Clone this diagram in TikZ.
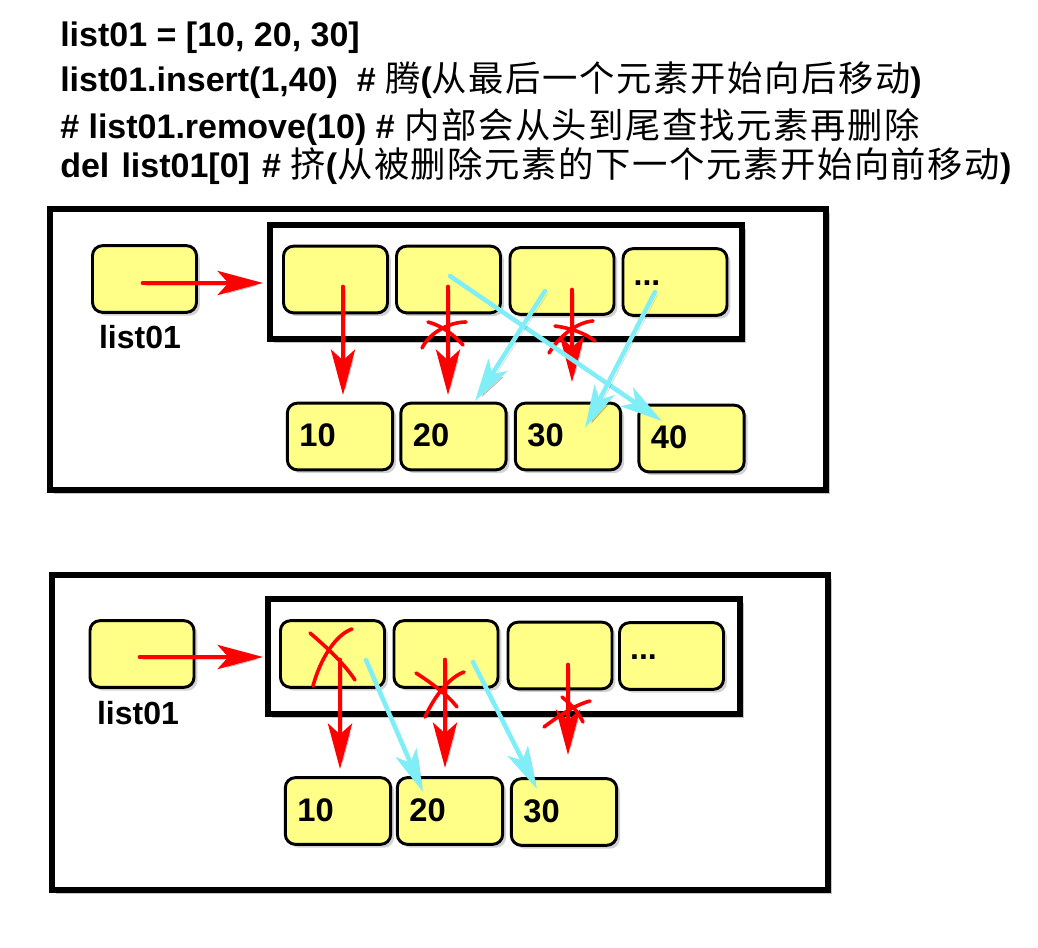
\documentclass[tikz,border=0pt]{standalone}
\usepackage{fontspec}
\setmainfont{Liberation Sans}
\newfontfamily\cjk{Noto Sans CJK SC}[LetterSpace=4.5]
\usetikzlibrary{arrows.meta,shadows}
\definecolor{cellyellow}{HTML}{FFFF88}
\definecolor{linecyan}{HTML}{80EEF6}
\definecolor{linered}{HTML}{FF0000}
\tikzset{
  frame/.style={draw=black, line width=3.8pt, fill=white, drop shadow={shadow xshift=3pt, shadow yshift=-3pt, opacity=0.45}},
  cell/.style={draw=black, line width=2.2pt, rounded corners=7.5pt, fill=cellyellow, minimum width=78pt, minimum height=50pt, inner sep=0pt, drop shadow={shadow xshift=2.5pt, shadow yshift=-2.5pt, opacity=0.35}},
  valbox/.style={cell, text width=61pt, align=left, inner xsep=9pt, font=\bfseries\fontsize{24.5}{28}\selectfont},
  shadowed/.style={preaction={draw=black, opacity=0.18, transform canvas={shift={(2pt,-2pt)}}}},
  redarrow/.style={shadowed, draw=linered, line width=3.6pt, line cap=round, -{Stealth[length=34pt, width=18pt, inset=8pt]}},
  cyanarrow/.style={shadowed, draw=linecyan, line width=3.4pt, line cap=round, -{Stealth[length=32pt, width=17pt, inset=8pt]}},
  xmark/.style={draw=linered, line width=2.7pt, line cap=round},
  lbl/.style={font=\bfseries\fontsize{24}{28}\selectfont},
  hdr/.style={anchor=base west, inner sep=0pt, font=\bfseries\fontsize{25.5}{30}\selectfont},
}
\newcommand{\zh}[1]{{\cjk\mdseries\fontsize{26.5}{30}\selectfont #1}}
\begin{document}
\begin{tikzpicture}[x=0.75pt, y=-0.75pt]
\useasboundingbox (0,0) rectangle (1038,948);
% header
\node[hdr] (h1) at (60,47) {list01 = [10, 20, 30]};
\node[hdr] (h2) at (60,92) {list01.insert(1,40)~~\# \zh{腾}(\zh{从最后一个元素开始向后移动})};
\node[hdr] (h3) at (60,139) {\# list01.remove(10) \# \zh{内部会从头到尾查找元素再删除}};
\node[hdr] (h4) at (60,178) {del\hspace{2pt} list01[0]\hspace{2pt} \# \zh{挤}(\zh{从被删除元素的下一个元素开始向前移动})};

% ===== upper diagram =====
\draw[frame] (50,209) rectangle (826,490);
\draw[frame] (270,225) rectangle (742,339);
\node[cell] (ua) at (144.5,279) {};
\node[lbl] (ual) at (140,337) {list01};
\node[cell] (u1) at (335.5,279.5) {};
\node[cell] (u2) at (448.5,279.5) {};
\node[cell] (u3) at (562,281) {};
\node[cell, text width=62pt, align=left, inner xsep=8pt, font=\bfseries\fontsize{24}{28}\selectfont] (u4) at (675,282) {\raisebox{-5pt}{...}};
\node[valbox] (v10) at (340,436.5) {\raisebox{2pt}{10}};
\node[valbox] (v20) at (453.5,436.5) {\raisebox{2pt}{20}};
\node[valbox] (v30) at (568,436.5) {\raisebox{2pt}{30}};
\node[valbox] (v40) at (691.5,438.5) {\raisebox{2pt}{40}};

\coordinate (ua0) at (143,283);
\coordinate (uat) at (263,283);
\draw[redarrow] (ua0) -- (uat);
\coordinate (r1s) at (343,287); \coordinate (r1t) at (343,395);
\coordinate (r2s) at (448,287); \coordinate (r2t) at (448,395);
\coordinate (r3s) at (572,290); \coordinate (r3t) at (572,382);
\draw[redarrow] (r1s) -- (r1t);
\draw[redarrow] (r2s) -- (r2t);
\draw[redarrow] (r3s) -- (r3t);
\draw[xmark] (422,348) .. controls (430,332) and (450,322) .. (466,322);
\draw[xmark] (428,322) .. controls (443,326) and (455,336) .. (463,345);
\draw[xmark] (549,353) .. controls (560,335) and (578,322) .. (593,321);
\draw[xmark] (555,326) .. controls (570,328) and (585,333) .. (595,341);
\coordinate (c1s) at (450,276); \coordinate (c1t) at (662,421);
\coordinate (c2s) at (545,291); \coordinate (c2t) at (475,401);
\coordinate (c3s) at (655,292); \coordinate (c3t) at (585,428);
\draw[cyanarrow] (c1s) -- (c1t);
\draw[cyanarrow] (c2s) -- (c2t);
\draw[cyanarrow] (c3s) -- (c3t);

% ===== lower diagram =====
\draw[frame] (52,575) rectangle (828,890);
\draw[frame] (268,599) rectangle (740,714);
\node[cell] (la) at (142,654) {};
\node[lbl] (lal) at (138,713) {list01};
\node[cell] (l1) at (332.5,654) {};
\node[cell] (l2) at (446,654) {};
\node[cell] (l3) at (560,655.5) {};
\node[cell, text width=62pt, align=left, inner xsep=8pt, font=\bfseries\fontsize{24}{28}\selectfont] (l4) at (671.5,656) {\raisebox{-5pt}{...}};
\node[valbox] (w10) at (338,811) {\raisebox{2pt}{10}};
\node[valbox] (w20) at (450,811) {\raisebox{2pt}{20}};
\node[valbox] (w30) at (564,812) {\raisebox{2pt}{30}};

\coordinate (la0) at (140,657);
\coordinate (lat) at (263,657);
\draw[redarrow] (la0) -- (lat);
\coordinate (q1s) at (340,660); \coordinate (q1t) at (340,769);
\coordinate (q2s) at (445,660); \coordinate (q2t) at (445,768);
\coordinate (q3s) at (568,665); \coordinate (q3t) at (568,755);
\draw[redarrow] (q1s) -- (q1t);
\draw[redarrow] (q2s) -- (q2t);
\draw[redarrow] (q3s) -- (q3t);
\draw[xmark] (310,633) .. controls (330,650) and (345,665) .. (355,680);
\draw[xmark] (313,686) .. controls (320,660) and (335,635) .. (352,629);
\draw[xmark] (416,673) .. controls (430,682) and (448,695) .. (457,707);
\draw[xmark] (425,717) .. controls (435,695) and (450,677) .. (464,672);
\draw[xmark] (544,727) .. controls (560,715) and (575,705) .. (590,701);
\draw[xmark] (562,697) .. controls (572,705) and (578,712) .. (583,722);
\coordinate (d1s) at (366,660); \coordinate (d1t) at (423,792);
\coordinate (d2s) at (473,662); \coordinate (d2t) at (537,789);
\draw[cyanarrow] (d1s) -- (d1t);
\draw[cyanarrow] (d2s) -- (d2t);
\end{tikzpicture}
\end{document}
